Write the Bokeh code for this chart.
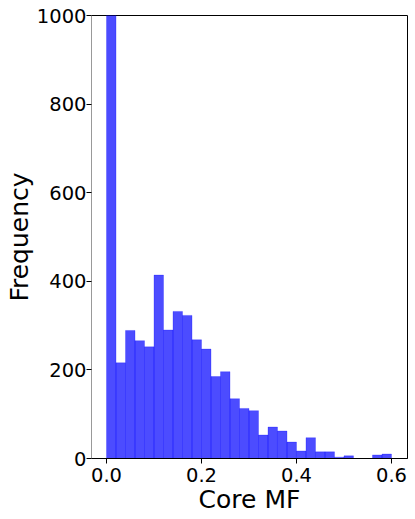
from bokeh.plotting import figure
from bokeh.models import Range1d, FixedTicker
from bokeh.embed import file_html
from bokeh.resources import INLINE

# Histogram of Core MF, 30 bins of width 0.02 from 0.0 to 0.6
bin_edges = [round(i * 0.02, 2) for i in range(31)]
counts = [1500, 216, 289, 266, 252, 414, 290, 332, 323, 268,
          247, 185, 196, 135, 113, 108, 53, 71, 62, 37,
          17, 47, 15, 15, 3, 6, 0, 0, 8, 10]
x_ticks = [0.0, 0.2, 0.4, 0.6]
x_tick_labels = ["0.0", "0.2", "0.4", "0.6"]
y_ticks = [0, 200, 400, 600, 800, 1000]

FONT = "DejaVu Sans"

p = figure(frame_width=316, frame_height=443, output_backend="svg", toolbar_location=None,
           x_range=Range1d(-0.0316, 0.6337), y_range=Range1d(0, 1000),
           min_border_left=91, min_border_right=6, min_border_top=15, min_border_bottom=50)

p.quad(left=bin_edges[:-1], right=bin_edges[1:], bottom=0, top=counts,
       fill_color="blue", fill_alpha=0.7, line_color="blue", line_alpha=0.25, line_width=1)

p.xgrid.visible = False
p.ygrid.visible = False
p.outline_line_color = "black"
p.outline_line_width = 1
p.outline_line_alpha = 1

p.xaxis.ticker = FixedTicker(ticks=x_ticks)
p.xaxis.major_label_overrides = {t: l for t, l in zip(x_ticks, x_tick_labels)}
p.yaxis.ticker = FixedTicker(ticks=y_ticks)

for ax in (p.xaxis[0], p.yaxis[0]):
    ax.major_label_text_font = FONT
    ax.major_label_text_font_size = "19.5px"
    ax.major_label_text_color = "black"
    ax.axis_label_text_font = FONT
    ax.axis_label_text_font_size = "25px"
    ax.axis_label_text_font_style = "normal"
    ax.axis_label_text_color = "black"
    ax.axis_line_color = "black"
    ax.major_tick_line_color = "black"
    ax.major_tick_out = 5
    ax.major_tick_in = 0
    ax.minor_tick_out = 0
    ax.minor_tick_in = 0

p.yaxis.axis_line_color = "#999999"
p.xaxis.major_label_standoff = 4
p.xaxis.axis_label_standoff = 0
p.yaxis.major_label_standoff = 0
p.yaxis.axis_label_standoff = 0

p.xaxis.axis_label = "Core MF"
p.yaxis.axis_label = "Frequency"

open("out.html", "w").write(file_html(p, INLINE))
